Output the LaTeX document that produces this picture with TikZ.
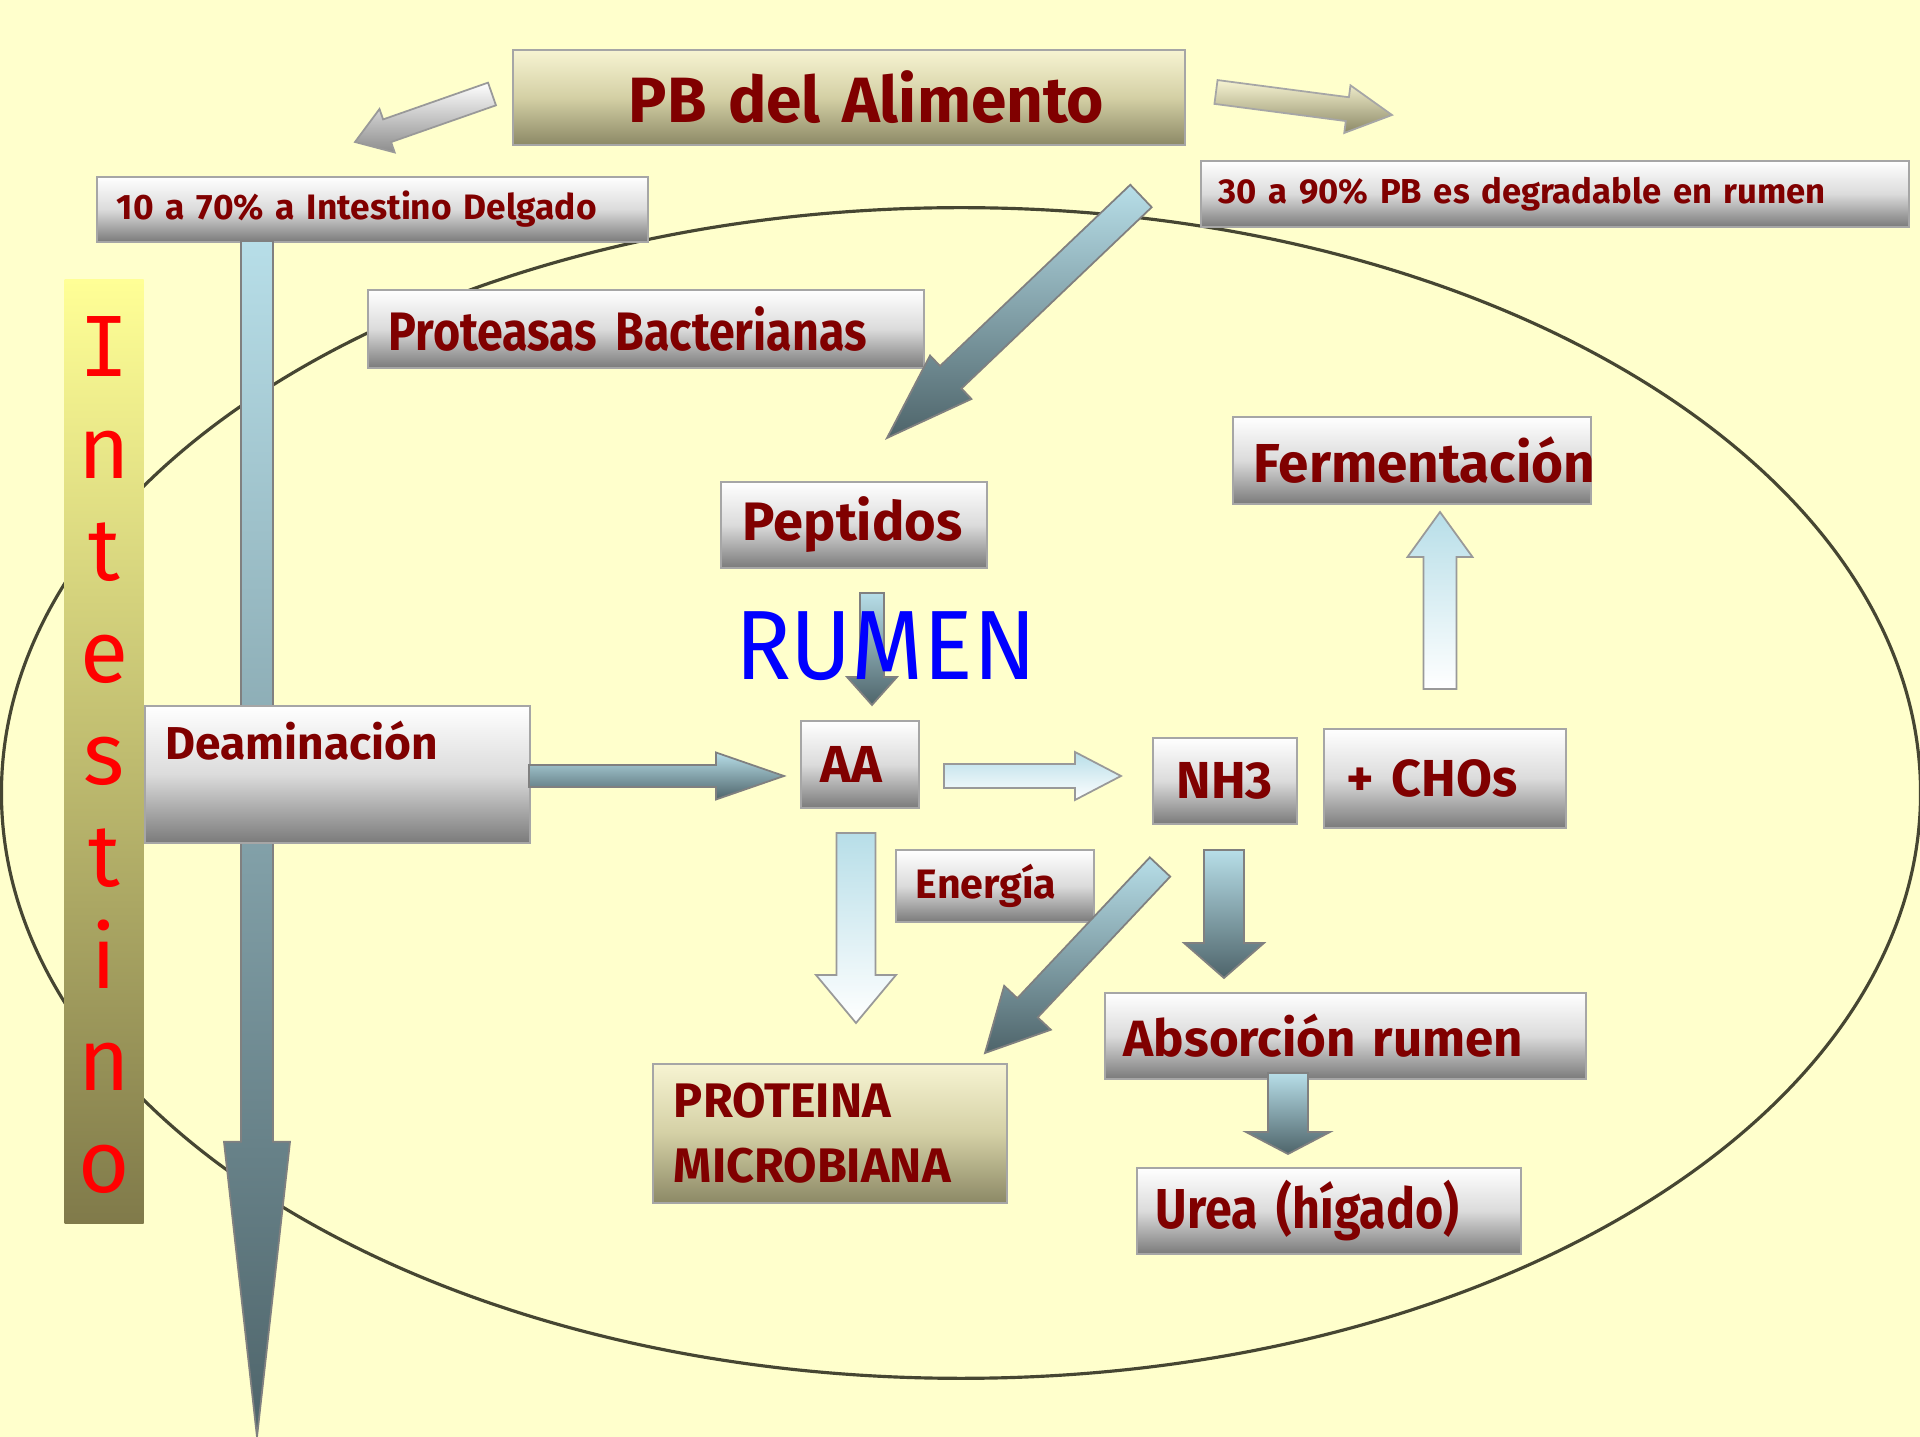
\documentclass[tikz,border=0pt]{standalone}
\usepackage{fontspec}
\setmainfont{Fira Sans}
\newfontfamily\condfont{Fira Sans}[FakeStretch=0.86,WordSpace=0.8]
\newfontfamily\rumfont{Fira Sans}[FakeStretch=0.94]
\newfontfamily\monof{DejaVu Sans Mono}
\usetikzlibrary{calc}

\definecolor{bgyel}{RGB}{255,255,204}
\definecolor{dred}{RGB}{128,0,0}
\definecolor{ltblue}{RGB}{183,222,232}
\definecolor{slate}{RGB}{78,100,106}
\definecolor{khtop}{RGB}{247,244,210}
\definecolor{khmid}{RGB}{212,208,165}
\definecolor{khbot}{RGB}{140,137,102}
\definecolor{edgeol}{RGB}{70,70,50}
\definecolor{intop}{RGB}{255,255,150}
\definecolor{inbot}{RGB}{128,122,74}

% block arrow: [style]{tail}{tip}{half shaft}{half head}{head length}
\newcommand\blockarr[6][]{%
  \coordinate (hb) at ($(#3)!#6!(#2)$);
  \filldraw[#1] ($(#2)!#4!90:(#3)$) -- ($(hb)!#4!90:(#3)$) -- ($(hb)!#5!90:(#3)$) -- (#3)
    -- ($(hb)!#5!-90:(#3)$) -- ($(hb)!#4!-90:(#3)$) -- ($(#2)!#4!-90:(#3)$) -- cycle;
}
\newcommand\sz[1]{\fontsize{#1}{#1}\selectfont}

\begin{document}
\begin{tikzpicture}[x=0.01cm,y=-0.01cm,
  bx/.style={draw=black!35,line width=0.5pt,anchor=north west,align=left,inner ysep=0pt,text=dred},
  silver/.style={bx,top color=white,bottom color=black!52,middle color=black!14},
  khaki/.style={bx,top color=khtop,bottom color=khbot,middle color=khmid},
  steel/.style={draw=black!50,line width=0.5pt,top color=ltblue,bottom color=slate},
  pale/.style={draw=black!40,line width=0.5pt,top color=ltblue,bottom color=white},
  greyarr/.style={draw=black!40,line width=0.5pt,top color=white,bottom color=black!45},
  khaarr/.style={draw=black!35,line width=0.5pt,top color=khtop,bottom color=khbot},
  ilet/.style={text=red,font=\sz{25},anchor=base,inner sep=0pt}]
\useasboundingbox (0,0) rectangle (1920,1437);
\fill[bgyel] (0,0) rectangle (1920,1437);
% ================ rumen ================
\draw[edgeol,line width=0.9pt] (961,793) ellipse [x radius=9.59cm,y radius=5.85cm];
% ================ Intestino ================
\node[anchor=north west,minimum width=0.79cm,minimum height=9.43cm,inner sep=0pt,
  top color=intop,bottom color=inbot] (intbar) at (64,279) {};
\node[ilet,font=\monof\sz{23.4}] (let1) at (104,377) {I};
\foreach \l [count=\i from 2] in {n,t,e,s,t,i,n,o}
  \node[ilet] (let\i) at (104,{377+102*(\i-1)}) {\l};
% ================ boxes ================
\node[silver,minimum height=0.65cm,inner xsep=0.2cm,text width=5.11cm,font=\bfseries\sz{10.05}] (intd) at (96,176) {\mbox{10 a 70\% a Intestino Delgado}};
\coordinate (dtail) at (257,241);
\coordinate (dtip) at (257,1437);
\blockarr[steel]{dtail}{dtip}{0.16cm}{0.33cm}{2.95cm}
\node[khaki,minimum height=0.95cm,inner xsep=1.16cm,text width=4.40cm,font=\bfseries\sz{18.2}] (pb) at (512,49) {\mbox{PB del Alimento}};
\node[silver,minimum height=0.66cm,inner xsep=0.18cm,text width=6.72cm,font=\bfseries\sz{9.85}] (degr) at (1200,160) {\mbox{30 a 90\% PB es degradable en rumen}};
\node[silver,minimum height=0.78cm,inner xsep=0.21cm,text width=5.14cm,font=\condfont\bfseries\sz{15.4}] (prot) at (367,289) {\mbox{Proteasas Bacterianas}};
\node[silver,minimum height=0.86cm,inner xsep=0.22cm,text width=2.22cm,font=\bfseries\sz{15.4}] (pept) at (720,481) {\mbox{Peptidos}};
\node[silver,minimum width=3.85cm,minimum height=1.37cm,inner sep=0pt] (deam) at (144,705) {};
\node[anchor=base west,inner sep=0pt,text=dred,font=\bfseries\sz{13.1}] (deamt) at (165,760) {Deaminación};
\node[silver,minimum height=0.87cm,inner xsep=0.2cm,text width=0.78cm,font=\bfseries\sz{14.8}] (aa) at (800,720) {\mbox{AA}};
\node[silver,minimum height=0.86cm,inner xsep=0pt,text width=1.44cm,align=center,font=\bfseries\sz{14.8}] (nh3) at (1152,737) {NH3};
\node[silver,minimum height=0.99cm,inner xsep=0.23cm,text width=1.96cm,font=\bfseries\sz{14.8}] (cho) at (1323,728) {\mbox{+ CHOs}};
\node[silver,minimum height=0.87cm,inner xsep=0.21cm,text width=3.16cm,font=\bfseries\sz{15.6}] (ferm) at (1232,416) {\mbox{Fermentación}};
\node[silver,minimum height=0.72cm,inner xsep=0.2cm,text width=1.58cm,font=\bfseries\sz{11.7}] (ener) at (895,849) {\mbox{Energía}};
\node[silver,minimum height=0.86cm,inner xsep=0.19cm,text width=4.43cm,font=\bfseries\sz{14.5}] (abs) at (1104,992) {\mbox{Absorción rumen}};
\node[khaki,minimum height=1.39cm,inner xsep=0.21cm,text width=3.12cm,font=\bfseries\fontsize{13.8}{18.5}\selectfont] (micro) at (652,1063) {PROTEINA\\MICROBIANA};
\node[silver,minimum height=0.86cm,inner xsep=0.19cm,text width=3.46cm,font=\condfont\bfseries\sz{16}] (urea) at (1136,1167) {\mbox{Urea (hígado)}};
% ================ arrows ================
\coordinate (atail) at (492,94);   \coordinate (atip) at (355,142);
\coordinate (btail) at (1216,92);  \coordinate (btip) at (1392,115);
\coordinate (ctail) at (1141,196); \coordinate (ctip) at (887,438);
\coordinate (etail) at (529,776);  \coordinate (etip) at (784,776);
\coordinate (ftail) at (872,593);  \coordinate (ftip) at (872,705);
\coordinate (gtail) at (944,776);  \coordinate (gtip) at (1121,776);
\coordinate (htail) at (856,833);  \coordinate (htip) at (856,1023);
\coordinate (itail) at (1160,867); \coordinate (itip) at (985,1053);
\coordinate (jtail) at (1224,850); \coordinate (jtip) at (1224,978);
\coordinate (ktail) at (1288,1073);\coordinate (ktip) at (1288,1154);
\coordinate (ltail) at (1440,689); \coordinate (ltip) at (1440,512);
\blockarr[greyarr]{atail}{atip}{0.12cm}{0.23cm}{0.34cm}
\blockarr[khaarr]{btail}{btip}{0.12cm}{0.24cm}{0.45cm}
\blockarr[steel]{ctail}{ctip}{0.155cm}{0.30cm}{0.88cm}
\blockarr[steel]{etail}{etip}{0.11cm}{0.235cm}{0.68cm}
\blockarr[steel]{ftail}{ftip}{0.12cm}{0.25cm}{0.28cm}
\blockarr[pale]{gtail}{gtip}{0.12cm}{0.24cm}{0.46cm}
\blockarr[pale]{htail}{htip}{0.195cm}{0.40cm}{0.48cm}
\blockarr[steel]{itail}{itip}{0.14cm}{0.32cm}{0.62cm}
\blockarr[steel]{jtail}{jtip}{0.20cm}{0.40cm}{0.35cm}
\blockarr[steel]{ktail}{ktip}{0.20cm}{0.42cm}{0.22cm}
\blockarr[pale]{ltail}{ltip}{0.165cm}{0.325cm}{0.45cm}
% ================ RUMEN ================
\node[anchor=base,inner sep=0pt,text=blue,font=\rumfont\sz{28}] (rumen) at (886,680) {RUMEN};
\end{tikzpicture}
\end{document}
